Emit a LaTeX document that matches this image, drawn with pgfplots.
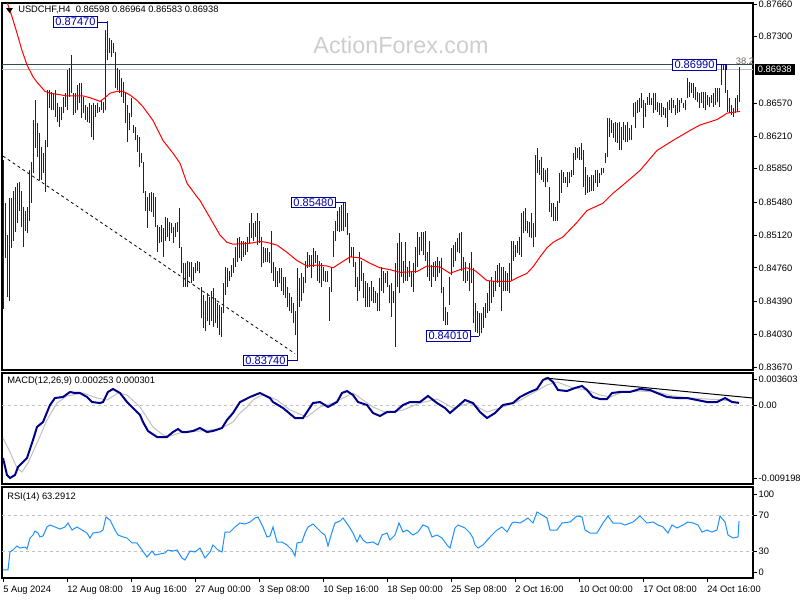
\documentclass[border=0pt]{standalone}
\usepackage{pgfplots}
\pgfplotsset{compat=1.18}
\usepackage{pgfplotstable}
\usepackage{fontspec}
\setmainfont{Liberation Sans}
\definecolor{barc}{RGB}{8,42,68}
\definecolor{macdc}{RGB}{0,0,139}
\definecolor{sigc}{RGB}{192,192,192}
\definecolor{rsic}{RGB}{30,144,255}
\definecolor{hlc}{RGB}{47,79,79}
\definecolor{boxc}{RGB}{0,0,160}
\definecolor{wm}{RGB}{205,205,205}
\definecolor{fibc}{RGB}{105,100,95}

% H4 bars, high / low
\pgfplotstableread{
h l
0.8594 0.8431
0.8547 0.8487
0.8512 0.8444
0.8553 0.8440
0.8553 0.8498
0.8561 0.8506
0.8565 0.8515
0.8569 0.8525
0.8570 0.8539
0.8561 0.8521
0.8543 0.8499
0.8539 0.8517
0.8543 0.8514
0.8583 0.8528
0.8592 0.8547
0.8638 0.8580
0.8660 0.8608
0.8635 0.8598
0.8624 0.8572
0.8609 0.8572
0.8602 0.8580
0.8616 0.8559
0.8671 0.8609
0.8671 0.8652
0.8669 0.8649
0.8668 0.8649
0.8671 0.8642
0.8657 0.8636
0.8653 0.8631
0.8653 0.8638
0.8664 0.8646
0.8668 0.8653
0.8693 0.8649
0.8696 0.8664
0.8710 0.8668
0.8668 0.8644
0.8668 0.8646
0.8677 0.8649
0.8679 0.8657
0.8679 0.8641
0.8664 0.8646
0.8655 0.8638
0.8653 0.8636
0.8657 0.8635
0.8655 0.8620
0.8657 0.8616
0.8655 0.8642
0.8657 0.8646
0.8653 0.8647
0.8660 0.8649
0.8658 0.8646
0.8737 0.8649
0.8747 0.8704
0.8729 0.8712
0.8726 0.8708
0.8723 0.8712
0.8713 0.8674
0.8696 0.8671
0.8693 0.8668
0.8685 0.8664
0.8680 0.8657
0.8669 0.8635
0.8655 0.8614
0.8646 0.8627
0.8663 0.8642
0.8633 0.8624
0.8631 0.8616
0.8622 0.8603
0.8620 0.8587
0.8602 0.8591
0.8592 0.8558
0.8561 0.8539
0.8554 0.8520
0.8558 0.8539
0.8559 0.8537
0.8558 0.8532
0.8554 0.8521
0.8523 0.8493
0.8521 0.8503
0.8523 0.8504
0.8520 0.8488
0.8532 0.8506
0.8531 0.8510
0.8526 0.8506
0.8525 0.8514
0.8521 0.8503
0.8525 0.8510
0.8526 0.8515
0.8542 0.8498
0.8499 0.8470
0.8481 0.8455
0.8481 0.8455
0.8484 0.8455
0.8482 0.8466
0.8482 0.8459
0.8477 0.8462
0.8481 0.8470
0.8484 0.8473
0.8482 0.8470
0.8455 0.8421
0.8446 0.8410
0.8440 0.8407
0.8448 0.8418
0.8444 0.8413
0.8451 0.8418
0.8454 0.8411
0.8443 0.8415
0.8437 0.8410
0.8435 0.8402
0.8433 0.8400
0.8459 0.8426
0.8477 0.8446
0.8476 0.8455
0.8473 0.8462
0.8479 0.8466
0.8487 0.8470
0.8499 0.8477
0.8509 0.8482
0.8510 0.8487
0.8506 0.8484
0.8506 0.8488
0.8504 0.8490
0.8510 0.8493
0.8525 0.8503
0.8536 0.8509
0.8525 0.8506
0.8528 0.8510
0.8536 0.8501
0.8528 0.8503
0.8510 0.8477
0.8499 0.8481
0.8498 0.8482
0.8498 0.8482
0.8493 0.8481
0.8517 0.8470
0.8482 0.8462
0.8477 0.8455
0.8473 0.8455
0.8476 0.8459
0.8476 0.8451
0.8466 0.8446
0.8466 0.8443
0.8455 0.8433
0.8448 0.8429
0.8444 0.8426
0.8437 0.8415
0.8429 0.8402
0.8476 0.8374
0.8465 0.8433
0.8470 0.8440
0.8466 0.8448
0.8484 0.8459
0.8493 0.8476
0.8490 0.8477
0.8490 0.8465
0.8498 0.8477
0.8495 0.8481
0.8490 0.8462
0.8484 0.8459
0.8481 0.8455
0.8477 0.8462
0.8473 0.8460
0.8473 0.8460
0.8455 0.8418
0.8477 0.8449
0.8517 0.8488
0.8528 0.8506
0.8539 0.8517
0.8543 0.8515
0.8545 0.8517
0.8547 0.8517
0.8548 0.8521
0.8536 0.8512
0.8514 0.8481
0.8499 0.8488
0.8499 0.8477
0.8482 0.8455
0.8466 0.8440
0.8493 0.8451
0.8484 0.8462
0.8470 0.8443
0.8462 0.8433
0.8459 0.8433
0.8455 0.8433
0.8462 0.8440
0.8455 0.8437
0.8451 0.8437
0.8448 0.8429
0.8465 0.8429
0.8477 0.8451
0.8473 0.8448
0.8470 0.8459
0.8473 0.8455
0.8457 0.8437
0.8459 0.8422
0.8451 0.8437
0.8481 0.8389
0.8503 0.8455
0.8514 0.8448
0.8504 0.8466
0.8484 0.8459
0.8504 0.8462
0.8477 0.8462
0.8484 0.8466
0.8473 0.8455
0.8481 0.8449
0.8499 0.8470
0.8515 0.8477
0.8510 0.8490
0.8515 0.8495
0.8515 0.8490
0.8517 0.8484
0.8493 0.8466
0.8506 0.8462
0.8479 0.8455
0.8482 0.8466
0.8484 0.8462
0.8488 0.8466
0.8484 0.8470
0.8487 0.8448
0.8455 0.8418
0.8433 0.8413
0.8427 0.8413
0.8466 0.8435
0.8498 0.8468
0.8501 0.8477
0.8504 0.8484
0.8509 0.8493
0.8514 0.8492
0.8515 0.8473
0.8488 0.8462
0.8482 0.8459
0.8473 0.8462
0.8481 0.8451
0.8493 0.8459
0.8476 0.8415
0.8437 0.8405
0.8429 0.8404
0.8426 0.8401
0.8426 0.8404
0.8433 0.8410
0.8437 0.8421
0.8448 0.8426
0.8462 0.8429
0.8466 0.8437
0.8462 0.8444
0.8473 0.8451
0.8479 0.8459
0.8481 0.8455
0.8477 0.8429
0.8477 0.8451
0.8473 0.8451
0.8470 0.8451
0.8481 0.8448
0.8506 0.8462
0.8506 0.8484
0.8501 0.8488
0.8506 0.8492
0.8510 0.8490
0.8536 0.8488
0.8539 0.8514
0.8542 0.8517
0.8528 0.8514
0.8526 0.8510
0.8536 0.8509
0.8525 0.8499
0.8600 0.8510
0.8608 0.8580
0.8594 0.8578
0.8598 0.8572
0.8586 0.8570
0.8583 0.8565
0.8586 0.8570
0.8565 0.8537
0.8547 0.8532
0.8547 0.8528
0.8543 0.8528
0.8550 0.8528
0.8580 0.8547
0.8583 0.8558
0.8581 0.8569
0.8576 0.8569
0.8581 0.8565
0.8581 0.8569
0.8583 0.8576
0.8602 0.8578
0.8609 0.8594
0.8608 0.8597
0.8609 0.8594
0.8613 0.8594
0.8605 0.8565
0.8587 0.8556
0.8578 0.8558
0.8576 0.8559
0.8578 0.8561
0.8578 0.8561
0.8583 0.8569
0.8583 0.8565
0.8580 0.8569
0.8586 0.8578
0.8586 0.8580
0.8602 0.8591
0.8641 0.8598
0.8641 0.8620
0.8638 0.8624
0.8635 0.8619
0.8636 0.8614
0.8635 0.8613
0.8636 0.8605
0.8631 0.8605
0.8636 0.8616
0.8633 0.8614
0.8636 0.8614
0.8630 0.8616
0.8633 0.8616
0.8657 0.8642
0.8658 0.8630
0.8660 0.8646
0.8663 0.8647
0.8668 0.8652
0.8660 0.8630
0.8657 0.8642
0.8664 0.8655
0.8668 0.8655
0.8663 0.8655
0.8668 0.8646
0.8668 0.8649
0.8658 0.8647
0.8657 0.8644
0.8657 0.8642
0.8653 0.8644
0.8652 0.8641
0.8658 0.8631
0.8660 0.8649
0.8663 0.8646
0.8660 0.8652
0.8655 0.8644
0.8663 0.8646
0.8660 0.8647
0.8663 0.8657
0.8657 0.8652
0.8660 0.8649
0.8685 0.8663
0.8680 0.8664
0.8679 0.8668
0.8679 0.8663
0.8675 0.8660
0.8669 0.8658
0.8668 0.8652
0.8669 0.8657
0.8669 0.8652
0.8669 0.8649
0.8666 0.8655
0.8664 0.8653
0.8666 0.8657
0.8668 0.8653
0.8674 0.8655
0.8674 0.8658
0.8674 0.8653
0.8699 0.8677
0.8699 0.8693
0.8699 0.8668
0.8671 0.8647
0.8663 0.8646
0.8655 0.8644
0.8652 0.8642
0.8663 0.8646
0.8666 0.8647
0.86964 0.86583
}\bars

\pgfplotsset{
  mt/.style={
    scale only axis, anchor=north west, width=563.25pt,
    xmin=-0.5, xmax=375, xtick=\empty,
    axis line style={line width=0.8pt},
    ytick pos=right, yticklabel pos=right,
    tick align=outside, major tick length=3pt,
    tick style={black, line width=0.6pt},
    scaled ticks=false,
    every tick label/.append style={font=\fontsize{7}{8}\selectfont},
    yticklabel style={anchor=west, inner sep=0pt, xshift=1pt},
    clip mode=individual,
  },
}
\tikzset{
  pbox/.style={draw=boxc, text=boxc, fill=white, line width=0.75pt,
    font=\fontsize{8.3}{9}\selectfont, inner xsep=1.5pt, inner ysep=1pt},
}

\begin{document}
\begin{tikzpicture}
\path[use as bounding box] (0,0) rectangle (600pt,-450pt);

\begin{scope}[x=0.75pt,y=-0.75pt]
\node[text=wm, font=\fontsize{17.5}{20}\selectfont] at (401,45) {ActionForex.com};
\end{scope}

% price panel
\begin{axis}[mt, at={(1.5pt,-2.25pt)}, height=275.25pt,
    ymin=0.83637, ymax=0.87671,
    ytick={0.8766,0.873,0.8657,0.8621,0.8585,0.8548,0.8512,0.8476,0.8439,0.8403,0.8367},
    yticklabels={0.87660,0.87300,0.86570,0.86210,0.85850,0.85480,0.85120,0.84760,0.84390,0.84030,0.83670}]
\addplot[hlc, line width=0.75pt, forget plot] coordinates {(-0.5,0.8699) (375,0.8699)};
\addplot[sigc, line width=0.75pt, forget plot] coordinates {(-0.5,0.86938) (375,0.86938)};
\addplot[black, line width=0.6pt, dash pattern=on 2.2pt off 2.2pt] coordinates {(0,0.85988) (146,0.83817)};
\addplot[draw=none, mark=none, error bars/.cd, y dir=plus, y explicit, error mark=none,
    error bar style={draw=barc, solid, line width=0.55pt}]
  table[x expr=\coordindex, y=l, y error expr=\thisrow{h}-\thisrow{l}] {\bars};
\addplot[red, line width=0.75pt] coordinates {
(0,0.8781) (2.5,0.8765) (4.5,0.8752) (7,0.8734) (9.5,0.8715) (12,0.8699) (15,0.8686)
(17,0.8680) (21,0.8670) (23.5,0.8668) (32,0.8665) (40,0.8665) (43.5,0.8663) (48.5,0.8659)
(51,0.8663) (53.5,0.8668) (57,0.8670) (60,0.8670) (63.5,0.8666) (67,0.8660) (70,0.8653)
(75,0.8638) (80,0.8616) (85,0.8602) (88.5,0.8591) (92,0.8569) (97,0.8554) (98.5,0.8550)
(103.5,0.8531) (108.5,0.8512) (112,0.8504) (115,0.8502) (123.5,0.8503) (128.5,0.8505)
(132,0.8504) (137,0.8501) (142,0.8493) (147,0.8484) (152,0.8478) (157,0.8479) (162,0.8478)
(165,0.8476) (168.5,0.8481) (173.5,0.8488) (178.5,0.8487) (183.5,0.8481) (188.5,0.8476)
(193.5,0.8474) (198.5,0.8471) (207,0.8472) (212,0.8478) (218.5,0.8477) (223.5,0.8470)
(228.5,0.8474) (232,0.8476) (236,0.8473) (242,0.8462) (247,0.8461) (253.5,0.8461)
(257,0.8465) (262,0.8470) (265,0.8477) (268.5,0.8488) (272,0.8498) (275,0.8504)
(280,0.8510) (287,0.8526) (292,0.8539) (297,0.8544) (300,0.8547) (305,0.8558)
(310,0.8567) (318.5,0.8583) (327,0.8605) (335,0.8616) (343.5,0.8627) (348.5,0.8633)
(357,0.8639) (360,0.8643) (362,0.8646) (368.5,0.8648)};

\node[pbox, anchor=east] (b1) at (axis cs:47.5,0.87462) {0.87470};
\draw[boxc, line width=0.75pt] (b1.east) -- (axis cs:52,0.87462);
\node[pbox, anchor=east] (b2) at (axis cs:166.5,0.8548) {0.85480};
\draw[boxc, line width=0.75pt] (b2.east) -- (axis cs:171,0.8548);
\node[pbox, anchor=east] (b3) at (axis cs:142.5,0.8374) {0.83740};
\draw[boxc, line width=0.75pt] (b3.east) -- (axis cs:147,0.8374);
\node[pbox, anchor=east] (b4) at (axis cs:234,0.8401) {0.84010};
\draw[boxc, line width=0.75pt] (b4.east) -- (axis cs:238,0.8401);
\node[pbox, anchor=east] (b5) at (axis cs:357,0.8699) {0.86990};
\draw[boxc, line width=0.75pt] (b5.east) -- (axis cs:361.5,0.8699) -- (axis cs:361.5,0.8693);
\node[text=fibc, font=\fontsize{7}{8}\selectfont, inner sep=0pt] at (axis cs:371,0.87035) {38.2};
\node[fill=black, text=white, font=\fontsize{7}{8}\selectfont, inner xsep=2.5pt, inner ysep=1.8pt, anchor=west]
  at (axis cs:375,0.86938) [xshift=1pt] {0.86938};
\end{axis}

% MACD panel
\begin{axis}[mt, at={(1.5pt,-279.75pt)}, height=83.25pt,
    ymin=-0.009275, ymax=0.003757,
    ytick={0.00305,0,-0.00857}, yticklabels={0.003603,0.00,-0.009198}]
\addplot[sigc, line width=0.6pt, dash pattern=on 2.5pt off 2pt] coordinates {(-0.5,0) (375,0)};
\addplot[sigc, line width=0.75pt] coordinates {
(0,-0.00387) (3.5,-0.00552) (7,-0.00740) (9.5,-0.00787) (12.5,-0.00681) (17,-0.00446)
(22,-0.00176) (27,0.00023) (32,0.00106) (40,0.00141) (47,0.00082) (52,0.00059)
(57.5,0.00141) (62,0.00117) (68.5,-0.00023) (75,-0.00258) (80,-0.00352) (83.5,-0.00364)
(90,-0.00317) (98.5,-0.00305) (108.5,-0.00282) (115,-0.00200) (118.5,-0.00094)
(122,-0.00023) (125,0.00059) (128.5,0.00106) (131,0.00117) (137,0.00059) (143.5,-0.00059)
(152,-0.00141) (158.5,-0.00023) (165,0.00023) (175,0.00141) (185,-0.00023) (192,-0.00094)
(200,-0.00059) (208.5,0.00023) (217,0.00070) (225,-0.00035) (233.5,0.00023) (242,-0.00082)
(248.5,-0.00035) (257,0.00035) (265,0.00141) (272,0.00235) (277,0.00270) (285,0.00200)
(292,0.00176) (298.5,0.00117) (303.5,0.00094) (310,0.00153) (318.5,0.00164) (327,0.00153)
(335,0.00106) (343.5,0.00082) (352,0.00070) (360,0.00059) (368,0.00030)};
\addplot[macdc, line width=1.5pt] coordinates {
(0,-0.00622) (2,-0.00822) (3.5,-0.00857) (6,-0.00822) (7.5,-0.00728) (12,-0.00622)
(15,-0.00411) (17,-0.00258) (20,-0.00200) (23.5,0) (26,0.00082) (30,0.00094) (33.5,0.00153)
(36,0.00141) (38.5,0.00141) (42,0.00094) (44.5,0.00035) (48.5,0.00023) (50,0.00035)
(52.5,0.00153) (55,0.00188) (58.5,0.00141) (62,0.00035) (65,-0.00035) (68.5,-0.00117)
(70,-0.00200) (72.5,-0.00305) (77,-0.00376) (82,-0.00376) (85,-0.00317) (87.5,-0.00282)
(89.5,-0.00317) (92,-0.00317) (95,-0.00305) (98.5,-0.00270) (102,-0.00317) (105,-0.00305)
(109.5,-0.00270) (112,-0.00176) (115,-0.00094) (118.5,0.00035) (123.5,0.00094)
(128.5,0.00141) (133.5,0.00082) (135,0.00035) (140,-0.00035) (146,-0.00153) (150,-0.00153)
(155,0.00023) (158.5,0.00035) (162.5,-0.00023) (167,0.00035) (169.5,0.00141) (172,0.00164)
(175,0.00117) (177.5,0.00035) (182,0) (185,-0.00094) (188.5,-0.00129) (192,-0.00082)
(196,-0.00082) (200,0) (203.5,0.00035) (208.5,0.00035) (212.5,0.00106) (217,0.00023)
(221,-0.00035) (223.5,-0.00094) (227,-0.00023) (231,0.00059) (235,0.00023) (238.5,-0.00082)
(242,-0.00153) (246,-0.00094) (250,0) (255,0.00023) (258.5,0.00094) (263.5,0.00153)
(267,0.00188) (270,0.00294) (272.5,0.00317) (275,0.00270) (277.5,0.00176) (282,0.00164)
(286,0.00200) (289.5,0.00223) (292,0.00176) (295,0.00094) (298.5,0.00070) (302,0.00070)
(304.5,0.00141) (308.5,0.00153) (313.5,0.00153) (318.5,0.00188) (323.5,0.00176)
(327,0.00141) (332,0.00094) (337,0.00082) (342,0.00082) (347,0.00059) (352,0.00035)
(357,0.00035) (361,0.00082) (364.5,0.00035) (368,0.00025)};
\addplot[black, line width=0.75pt] coordinates {(271,0.00317) (375,0.00082)};
\end{axis}

% RSI panel
\begin{axis}[mt, at={(1.5pt,-365.25pt)}, height=68.25pt,
    ymin=0, ymax=101.1,
    ytick={6.7,30,70,93.3}, yticklabels={0,30,70,100},
    xtick={0,32,64,96,128,160,192,224,256,288,320,352},
    xticklabels={5 Aug 2024,12 Aug 08:00,19 Aug 16:00,27 Aug 00:00,3 Sep 08:00,10 Sep 16:00,18 Sep 00:00,25 Sep 08:00,2 Oct 16:00,10 Oct 00:00,17 Oct 08:00,24 Oct 16:00},
    xtick pos=left, xticklabel style={anchor=north west, inner sep=0pt, yshift=-2.5pt}]
\addplot[sigc, line width=0.6pt, dash pattern=on 2.5pt off 2pt] coordinates {(-0.5,70) (375,70)};
\addplot[sigc, line width=0.6pt, dash pattern=on 2.5pt off 2pt] coordinates {(-0.5,30) (375,30)};
\addplot[rsic, line width=0.75pt] coordinates {
(0,8.9) (2.5,8.9) (3.5,28.9) (5,31.1) (7,35.6) (8.5,33.3) (11,34.4) (12,32.2) (13.5,44.4)
(15,47.8) (16,52.2) (17.5,50) (18.5,45.6) (20,46.7) (22,56.7) (23.5,58.9) (26,56.7)
(28.5,54.4) (31,56.7) (32.5,61.1) (34.5,53.3) (37,56.7) (39.5,53.3) (42,50) (43.5,44.4)
(45,50) (48.5,51.1) (50,53.3) (51.5,67.8) (53.5,64.4) (56,53.3) (57.5,47.8) (60,45.6)
(62,44.4) (64.5,38.9) (67,38.9) (69.5,31.1) (72,23.3) (74.5,30) (76,25.6) (78.5,26.7)
(81,27.8) (82.5,31.1) (85,30) (87,31.1) (89.5,22.2) (91,20) (93.5,30) (96,28.9) (98.5,33.3)
(101,22.2) (103.5,28.9) (105,36.7) (107.5,31.1) (109.5,28.9) (111,51.1) (113.5,51.1)
(116,56.7) (118.5,61.1) (121,60) (123.5,62.2) (126,66.7) (127.5,67.8) (130,56.7) (132,45.6)
(133.5,46.7) (135,56.7) (137,40) (139.5,40) (142,36.7) (144.5,31.1) (146,24.4) (147,38.9)
(149.5,40) (151,50) (152.5,56.7) (155,60) (157.5,54.4) (159.5,50) (161,47.8) (162.5,35.6)
(164.5,51.1) (166,61.1) (168.5,63.3) (170,66.7) (172.5,58.9) (175,50) (177,40) (178.5,47.8)
(180,42.2) (182,38.9) (185,40) (187.5,36.7) (189.5,47.8) (192,50) (193.5,42.2) (196,47.8)
(198,61.1) (200,51.1) (202,53.3) (205,47.8) (207.5,51.1) (210,58.9) (212.5,56.7) (214.5,45.6)
(217,47.8) (219.5,44.4) (222,36.7) (223.5,33.3) (226,55.6) (227.5,58.9) (231,55.6)
(233.5,50) (235,44.4) (236,36.7) (237.5,33.3) (240,36.7) (243.5,45.6) (247,53.3)
(249.5,56.7) (252,51.1) (254.5,61.1) (256,62.2) (258.5,61.1) (261,64.4) (262.5,66.7)
(265,61.1) (267,73.3) (269.5,70) (272,66.7) (273.5,53.3) (277,53.3) (279.5,61.1)
(283.5,62.2) (287,68.9) (289.5,67.8) (291,53.3) (293.5,50) (297,50) (300,61.1) (302.5,68.9)
(305,61.1) (308.5,61.1) (311,58.9) (315,62.2) (318.5,68.9) (322,61.1) (325,62.2)
(327.5,58.9) (330,56.7) (332.5,50) (334.5,58.9) (337,55.6) (340,58.9) (342.5,62.2)
(345,61.1) (347.5,58.9) (349.5,51.1) (352,53.3) (354.5,51.1) (357,53.3) (358.5,68.9)
(361,62.2) (362.5,47.8) (365,44.4) (367.5,45.6) (368,63.3)};
\end{axis}

\begin{scope}[x=0.75pt,y=-0.75pt]
\fill[black] (6,8) -- (13,8) -- (9.5,13) -- cycle;
\node[anchor=west, inner sep=0pt, font=\fontsize{7}{8}\selectfont] at (18,10) {USDCHF,H4\ \ 0.86598 0.86964 0.86583 0.86938};
\node[anchor=west, inner sep=0pt, font=\fontsize{7}{8}\selectfont] at (7,381) {MACD(12,26,9) 0.000253 0.000301};
\node[anchor=west, inner sep=0pt, font=\fontsize{7}{8}\selectfont] at (7,497) {RSI(14) 63.2912};
\end{scope}
\end{tikzpicture}
\end{document}
